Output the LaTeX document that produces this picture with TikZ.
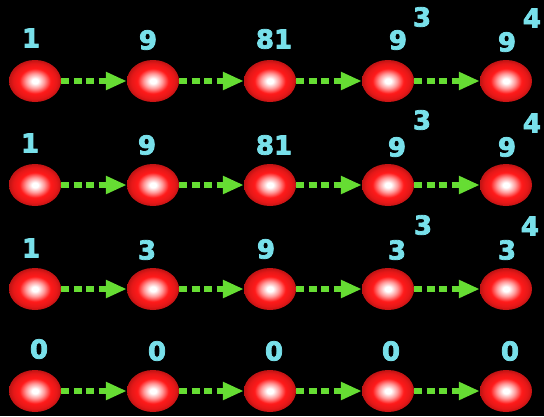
\documentclass[tikz,border=0pt]{standalone}
\usepackage{fontspec}
\newfontfamily\labfont{DejaVu Sans}[FakeBold=3]
\usetikzlibrary{shapes.geometric,arrows.meta}
\definecolor{lbl}{HTML}{78E0EA}
\definecolor{arrg}{HTML}{66DD33}
\definecolor{ballred}{HTML}{FF1A1A}
\pgfdeclareradialshading{redball}{\pgfpoint{0bp}{0bp}}{%
  color(0bp)=(white); color(3bp)=(white); color(9bp)=(ballred!45!white);
  color(15bp)=(ballred); color(21bp)=(ballred!90!black); color(25bp)=(ballred!75!black);
  color(50bp)=(ballred!75!black)}
\tikzset{
  ball/.style={ellipse, minimum width=52pt, minimum height=42pt, inner sep=0pt,
    shading=redball},
  arr/.style={draw=arrg, line width=6pt, dash pattern=on 8pt off 4.5pt,
    -{Triangle[length=21pt,width=17pt]}},
  lab/.style={text=lbl, font=\labfont\bfseries\fontsize{26}{26}\selectfont, inner sep=0pt}
}
\begin{document}
\begin{tikzpicture}[x=1pt,y=-1pt]
\fill[black] (0,0) rectangle (544,416);
\useasboundingbox (0,0) rectangle (544,416);
% rows
\foreach \r/\y in {1/81,2/185,3/289,4/391}{
  \foreach \c/\x in {1/35,2/153,3/270,4/388,5/506}{
    \node[ball] (b\r\c) at (\x,\y) {};
  }
  \foreach \c [evaluate=\c as \n using int(\c+1)] in {1,2,3,4}{
    \draw[arr] (b\r\c) -- (b\r\n);
  }
}
% row 1 labels
\node[lab] (l11) at (31,38) {1};
\node[lab] (l12) at (148,40) {9};
\node[lab] (l13) at (274,39) {81};
\node[lab] (l14) at (398,40) {9};
\node[lab] (s14) at (422,17) {3};
\node[lab] (l15) at (507,42) {9};
\node[lab] (s15) at (532,18) {4};
% row 2 labels
\node[lab] (l21) at (30,143) {1};
\node[lab] (l22) at (147,145) {9};
\node[lab] (l23) at (274,145) {81};
\node[lab] (l24) at (397,147) {9};
\node[lab] (s24) at (422,120) {3};
\node[lab] (l25) at (507,147) {9};
\node[lab] (s25) at (532,123) {4};
% row 3 labels
\node[lab] (l31) at (31,248) {1};
\node[lab] (l32) at (147,250) {3};
\node[lab] (l33) at (266,249) {9};
\node[lab] (l34) at (397,250) {3};
\node[lab] (s34) at (423,225) {3};
\node[lab] (l35) at (507,250) {3};
\node[lab] (s35) at (530,226) {4};
% row 4 labels
\node[lab] (l41) at (39,349) {0};
\node[lab] (l42) at (157,351) {0};
\node[lab] (l43) at (274,351) {0};
\node[lab] (l44) at (391,351) {0};
\node[lab] (l45) at (510,351) {0};
\end{tikzpicture}
\end{document}
